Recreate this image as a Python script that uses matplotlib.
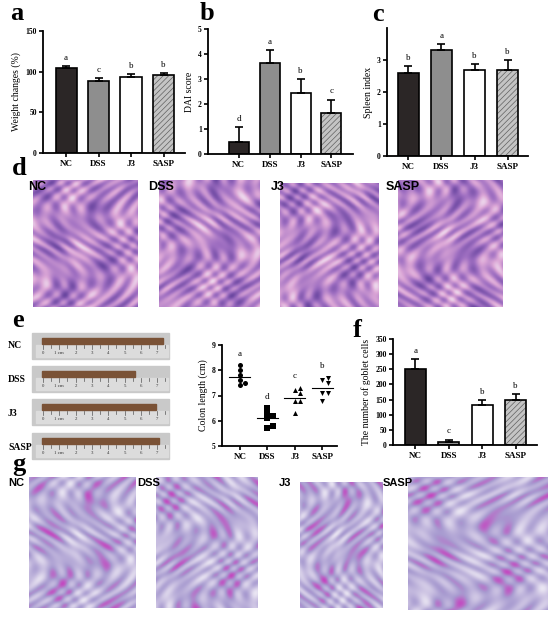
import numpy as np
import matplotlib
matplotlib.use('Agg')
import matplotlib.pyplot as plt
from matplotlib.colors import LinearSegmentedColormap
from matplotlib.patches import Rectangle

plt.rcParams['font.family'] = ['Liberation Serif', 'DejaVu Serif']
plt.rcParams['font.weight'] = 'bold'
plt.rcParams['hatch.linewidth'] = 0.5

# Данные
groups = ['NC', 'DSS', 'J3', 'SASP']

weight_mean = [104, 89, 94, 96]
weight_err = [3, 3, 3, 2]
weight_letters = ['a', 'c', 'b', 'b']

dai_mean = [0.5, 3.65, 2.45, 1.65]
dai_err = [0.57, 0.52, 0.56, 0.53]
dai_letters = ['d', 'a', 'b', 'c']

spleen_mean = [2.6, 3.3, 2.68, 2.7]
spleen_err = [0.2, 0.2, 0.2, 0.3]
spleen_letters = ['b', 'a', 'b', 'b']

colon_nc = [8.2, 8.0, 7.8, 7.6, 7.4, 7.5]
colon_dss = [6.5, 6.3, 6.1, 6.2, 5.7, 5.8]
colon_j3 = [7.2, 7.3, 7.1, 6.8, 6.8, 6.3]
colon_sasp = [7.6, 7.7, 7.5, 7.1, 7.1, 6.8]
colon_letters = ['a', 'd', 'c', 'b']
photo_lengths = [7.4, 5.7, 7.0, 7.2]  # длина толстой кишки на фото, см

goblet_mean = [250, 10, 133, 147]
goblet_err = [33, 8, 16, 22]
goblet_letters = ['a', 'c', 'b', 'b']

W, H = 550, 618
fig = plt.figure(figsize=(W / 100, H / 100), dpi=100)


def px_axes(x0, y0, x1, y1):
    return fig.add_axes([x0 / W, 1 - y1 / H, (x1 - x0) / W, (y1 - y0) / H])


def style_axes(ax):
    for s in ['top', 'right']:
        ax.spines[s].set_visible(False)
    for s in ['left', 'bottom']:
        ax.spines[s].set_linewidth(1.3)
    ax.tick_params(direction='out', length=3, width=1.2, labelsize=5.5, pad=1.5)
    ax.tick_params(axis='x', labelsize=6.5, pad=2)


def bar_panel(ax, means, errs, letters, xlim, ylim, yticks, ylabel, width=0.64):
    x = np.arange(len(groups))
    faces = ['#2b2626', '#8e8e8e', 'white', '#c4c4c4']
    for i in range(len(groups)):
        if i == 3:
            ax.bar(x[i], means[i], width, color='#c4c4c4', edgecolor='#606060',
                   hatch='//////', linewidth=0, zorder=2)
            ax.bar(x[i], means[i], width, fill=False, edgecolor='black', linewidth=1.2, zorder=3)
        else:
            ax.bar(x[i], means[i], width, color=faces[i], edgecolor='black', linewidth=1.2, zorder=2)
    ax.errorbar(x, means, yerr=[np.zeros(len(errs)), errs], fmt='none', ecolor='black',
                elinewidth=1.2, capsize=3, capthick=1.2, zorder=4)
    for i, let in enumerate(letters):
        ax.annotate(let, (x[i], means[i] + errs[i]), xytext=(0, 3), textcoords='offset points',
                    ha='center', va='bottom', fontsize=6.5, fontweight='normal')
    ax.set_xlim(*xlim)
    ax.set_ylim(*ylim)
    ax.set_yticks(yticks)
    ax.set_xticks(x)
    ax.set_xticklabels(groups)
    ax.set_ylabel(ylabel, fontsize=7, labelpad=3)
    style_axes(ax)


# a
ax_a = px_axes(43, 31, 185, 153)
bar_panel(ax_a, weight_mean, weight_err, weight_letters, (-0.71, 3.66), (0, 150),
          [0, 50, 100, 150], 'Weight changes (%)', width=0.65)
# b
ax_b = px_axes(208, 29, 353, 154)
bar_panel(ax_b, dai_mean, dai_err, dai_letters, (-1.0, 3.7), (0, 5),
          [0, 1, 2, 3, 4, 5], 'DAI score', width=0.65)
# c
ax_c = px_axes(387, 28, 528, 156)
bar_panel(ax_c, spleen_mean, spleen_err, spleen_letters, (-0.65, 3.62), (0, 4),
          [0, 1, 2, 3], 'Spleen index', width=0.64)
# f
ax_f = px_axes(393, 339, 537, 445)
bar_panel(ax_f, goblet_mean, goblet_err, goblet_letters, (-0.67, 3.64), (0, 350),
          [0, 50, 100, 150, 200, 250, 300, 350], 'The number of goblet cells', width=0.63)

# e: точечный график длины кишки
ax_e = px_axes(222, 345, 337, 446)
colon_sets = [colon_nc, colon_dss, colon_j3, colon_sasp]
markers = ['o', 's', '^', 'v']
dx = 1 / 27.5 * 5.5   # примерно диаметр маркера в единицах x
dy = 1 / 25.2 * 5.0
for i, vals in enumerate(colon_sets):
    placed = []
    xs = []
    for v in vals:
        for k in [0, 1, -1, 2, -2]:
            xo = k * dx
            if all(abs(xo - px) > dx * 0.9 or abs(v - py) > dy for px, py in placed):
                break
        placed.append((xo, v))
        xs.append(i + xo)
    ax_e.scatter(xs, vals, marker=markers[i], s=13, color='black', zorder=3, linewidths=0)
    m = np.mean(vals)
    ax_e.plot([i - 0.38, i + 0.38], [m, m], color='black', lw=0.8, zorder=2)
    ax_e.text(i, max(vals) + 0.3, colon_letters[i], ha='center', va='bottom',
              fontsize=6.5, fontweight='normal')
ax_e.set_xlim(-0.65, 3.53)
ax_e.set_ylim(5, 9)
ax_e.set_yticks([5, 6, 7, 8, 9])
ax_e.set_xticks(range(4))
ax_e.set_xticklabels(groups)
ax_e.set_ylabel('Colon length (cm)', fontsize=7, labelpad=3)
style_axes(ax_e)

# e: фото кишки с линейкой
ax_p = px_axes(30, 330, 172, 462)
ax_p.set_xlim(30, 172)
ax_p.set_ylim(462, 330)
ax_p.axis('off')
strip_tops = [333, 366, 399, 433]
cm_px = 16.3
for top, length in zip(strip_tops, photo_lengths):
    ax_p.add_patch(Rectangle((32, top), 137, 26, color='#c9c9c9', zorder=1))
    ax_p.add_patch(Rectangle((36, top + 12), 132, 12, color='#dcdcdc', zorder=2))
    ax_p.add_patch(Rectangle((42, top + 5), length * cm_px, 6, color='#7a5236', zorder=3))
    for t in np.arange(0, 8.05, 0.5):
        xt = 43 + t * cm_px
        if xt < 167:
            ax_p.plot([xt, xt], [top + 12, top + (16 if t % 1 == 0 else 14.5)],
                      color='#555555', lw=0.5, zorder=4)
    for n in range(9):
        xt = 43 + n * cm_px
        if xt < 167:
            lab = '1 cm' if n == 1 else str(n)
            ax_p.text(xt, top + 20, lab, fontsize=3.5, ha='center', va='center',
                      color='#333333', fontweight='normal', zorder=5)
for lab, yy in zip(groups, [346, 380, 413, 447]):
    fig.text(8 / W, 1 - yy / H, lab, fontsize=7, ha='left', va='center')

# d, g: гистология (заглушки)
he_cmap = LinearSegmentedColormap.from_list('he', ['#f6eef6', '#dba6d6', '#a070c2', '#6a46a0'])
pas_cmap = LinearSegmentedColormap.from_list('pas', ['#f5f3f9', '#cfc6e4', '#a89bd0', '#c446c0'])


def tissue(x0, y0, x1, y1, cmap, phase):
    ax = px_axes(x0, y0, x1, y1)
    gx, gy = np.meshgrid(np.linspace(0, 1, 120), np.linspace(0, 1, 140))
    z = (0.55 + 0.2 * np.sin(11 * gx + 5 * gy + phase) * np.cos(8 * gy - 3 * gx + phase)
         + 0.15 * np.sin(37 * gx + 13 * np.sin(6 * gy + phase))
         + 0.1 * np.cos(41 * gy + 9 * np.cos(5 * gx - phase)))
    ax.imshow(z, cmap=cmap, aspect='auto', vmin=0, vmax=1, interpolation='bilinear')
    ax.axis('off')
    return ax


he_boxes = [(33, 180, 138, 307), (159, 180, 260, 307), (280, 183, 378, 307), (398, 180, 503, 307)]
for k, b in enumerate(he_boxes):
    tissue(*b, he_cmap, k * 1.3)
for lab, xx in zip(groups, [28, 148, 271, 386]):
    fig.text(xx / W, 1 - 187 / H, lab, fontsize=9, ha='left', va='center',
             family=['Liberation Sans', 'DejaVu Sans'], fontweight='bold')

pas_boxes = [(29, 477, 136, 608), (156, 477, 258, 608), (300, 482, 383, 608), (408, 477, 548, 610)]
for k, b in enumerate(pas_boxes):
    tissue(*b, pas_cmap, k * 1.7 + 0.5)
for lab, xx in zip(groups, [8, 137, 279, 383]):
    fig.text(xx / W, 1 - 483 / H, lab, fontsize=8, ha='left', va='center',
             family=['Liberation Sans', 'DejaVu Sans'], fontweight='bold')

# Буквы панелей
for lab, xx, yy in [('a', 10, 20), ('b', 200, 20), ('c', 372, 21), ('d', 12, 175),
                    ('e', 12, 327), ('f', 353, 337), ('g', 12, 471)]:
    fig.text(xx / W, 1 - yy / H, lab, fontsize=19, ha='left', va='baseline')

fig.savefig('out.png', dpi=100)
